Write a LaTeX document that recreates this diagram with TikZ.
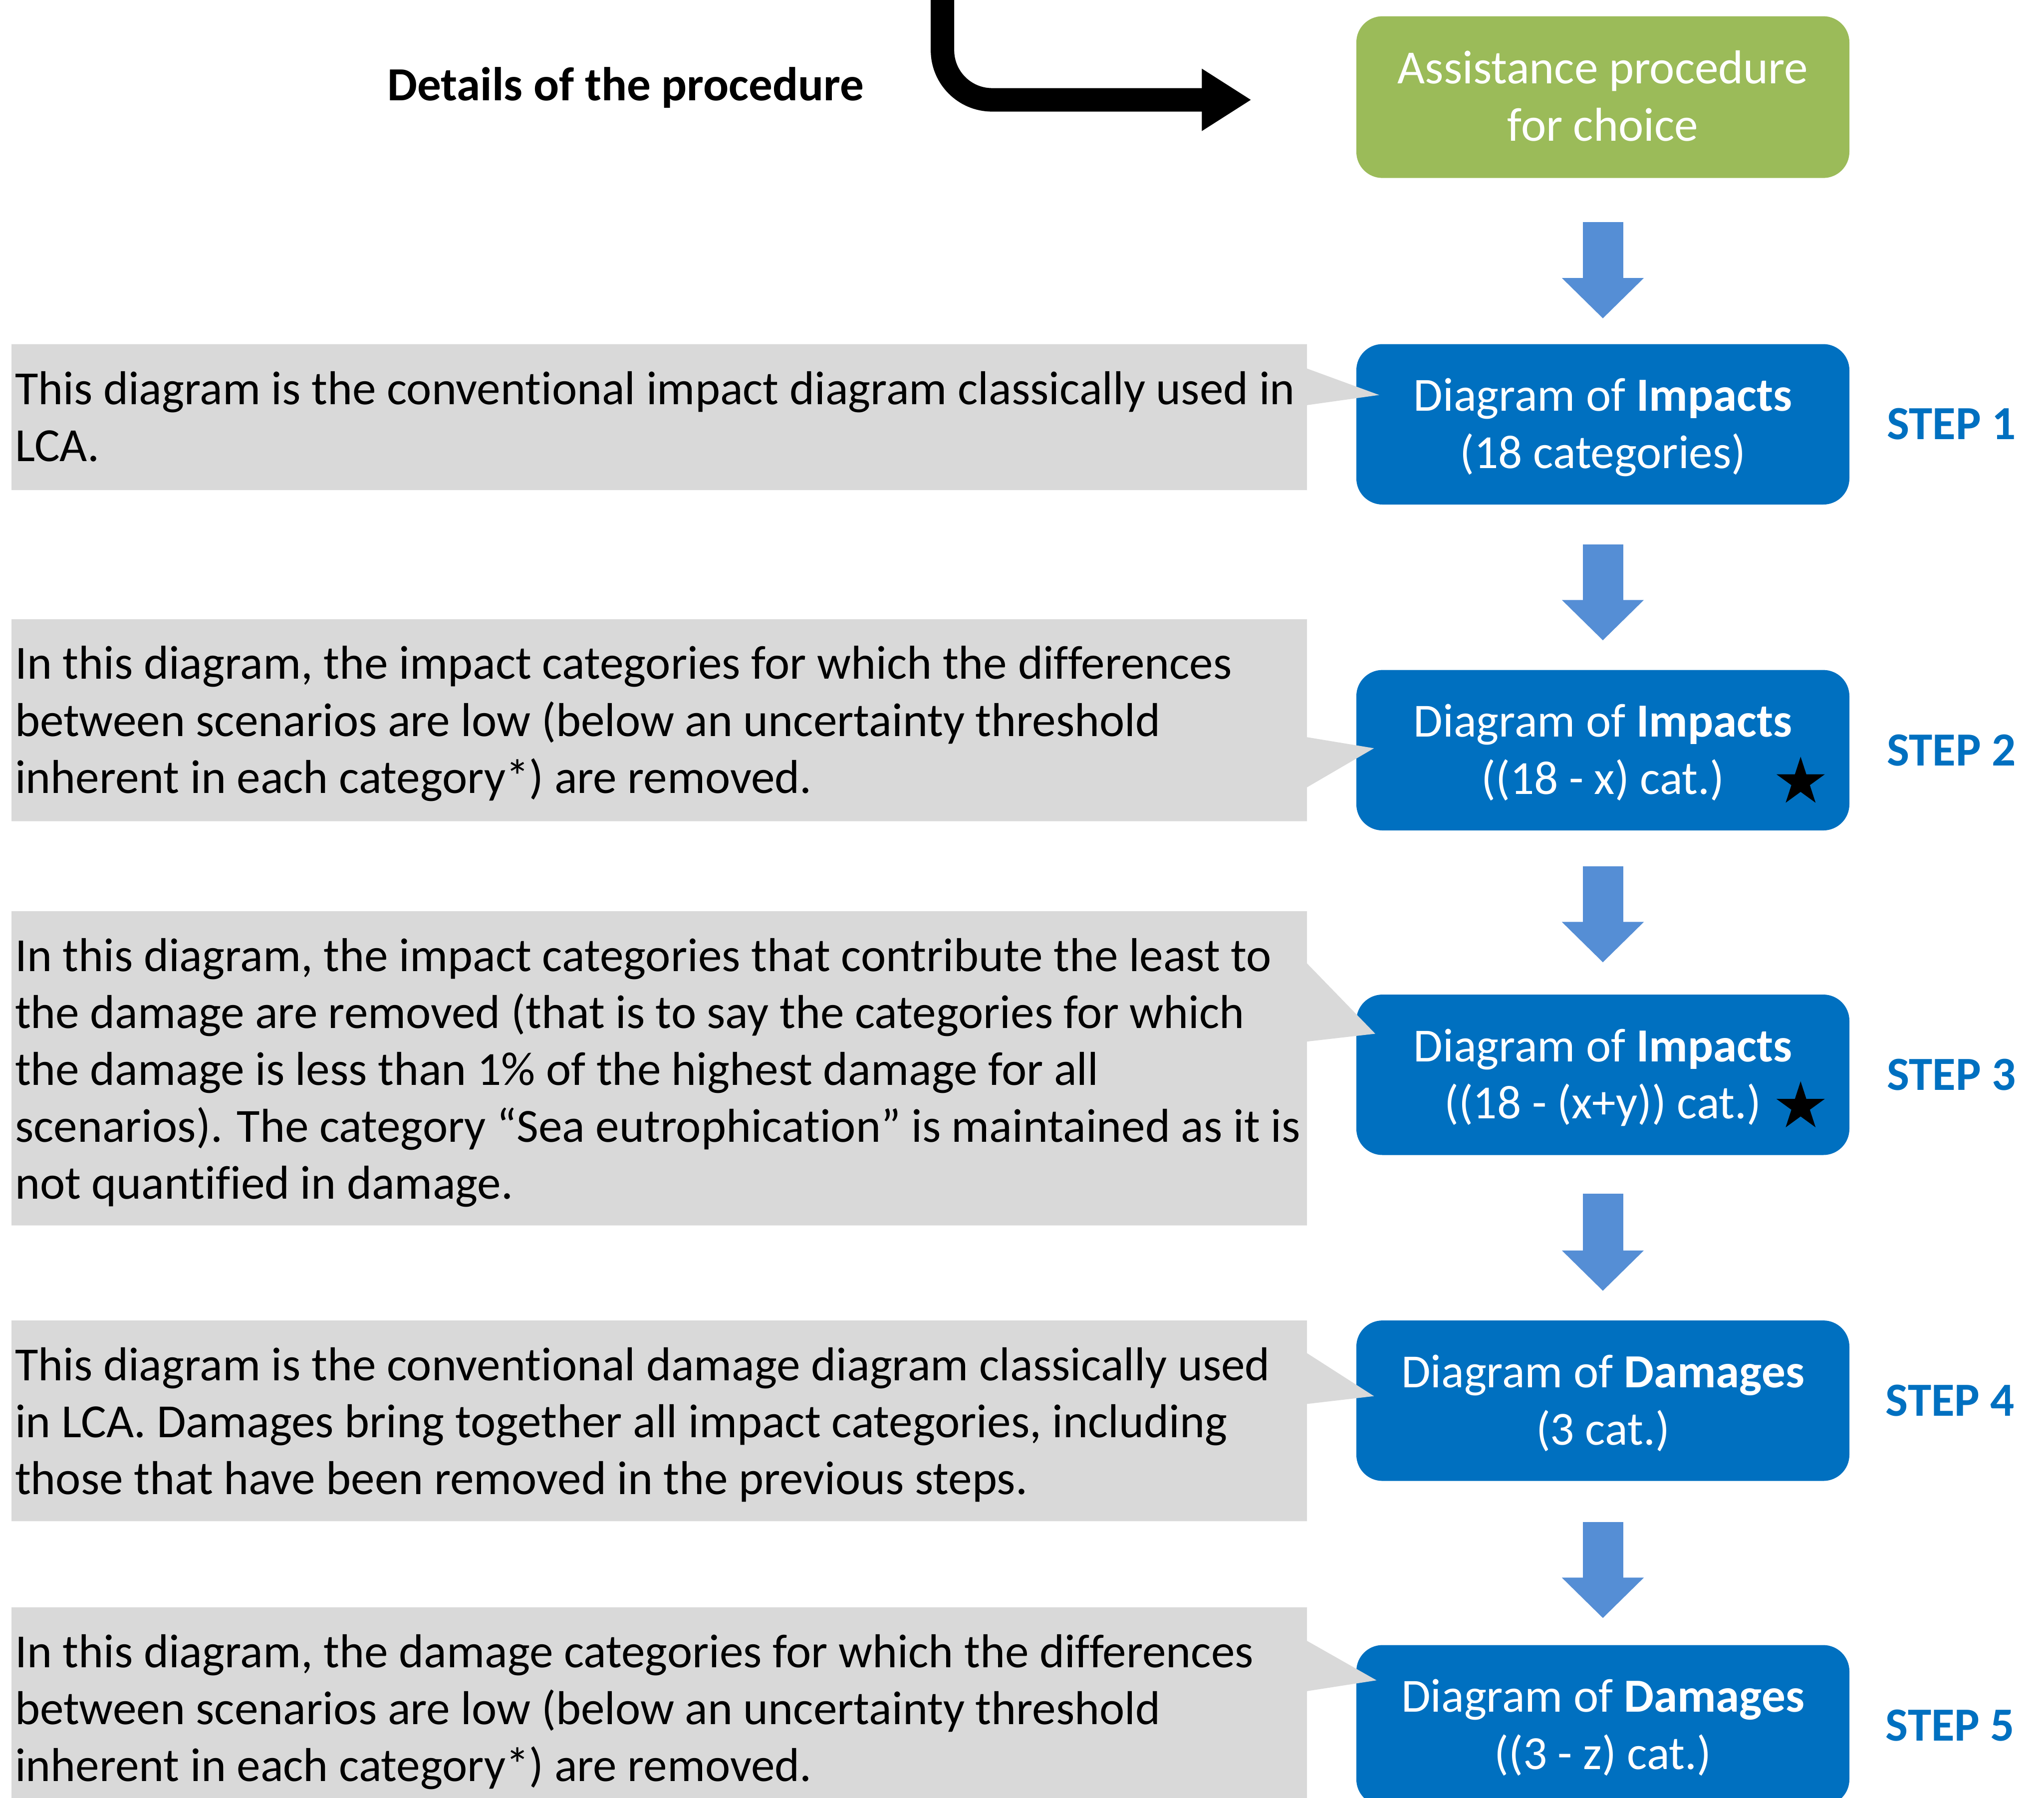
\documentclass[tikz,border=0pt]{standalone}
\usepackage{fontspec}
\setmainfont{Carlito}[Ligatures={NoCommon}]
\usetikzlibrary{arrows.meta,shapes.geometric,calc}
\definecolor{boxblue}{HTML}{0070C0}
\definecolor{arrblue}{HTML}{558ED5}
\definecolor{boxgreen}{HTML}{9BBB59}
\definecolor{calgray}{HTML}{D9D9D9}
\newcommand\fsz{\fontsize{10.37}{12.6}\selectfont}
\begin{document}
\begin{tikzpicture}[x=0.01cm,y=-0.01cm,
  txt/.style={inner sep=0pt, outer sep=0pt, font=\fsz},
  ctxt/.style={txt, anchor=base west},
  btxt/.style={txt, anchor=base, text=white},
  steplbl/.style={txt, anchor=base, font=\fsz\bfseries, text=boxblue},
  stepbox/.style={rectangle, rounded corners=0.2cm, minimum width=3.78cm, minimum height=1.23cm, inner sep=0pt, fill=boxblue},
  bluearr/.style={draw=arrblue, fill=arrblue, line width=0.31cm, -{Triangle[width=0.61cm,length=0.31cm]}},
  starmark/.style={star, star points=5, star point ratio=2.618, fill=black, inner sep=0pt, minimum size=0.39cm},
  callfill/.style={fill=calgray}
]
\useasboundingbox (0,0) rectangle (1568,1379);

% ---- boxes ----
\node[stepbox, fill=boxgreen, minimum height=1.24cm] (g) at (1229.6,74.5) {};
\node[stepbox] (b1) at (1229.6,325.5) {};
\node[stepbox] (b2) at (1229.6,575.5) {};
\node[stepbox] (b3) at (1229.6,824.5) {};
\node[stepbox] (b4) at (1229.6,1074.5) {};
\node[stepbox] (b5) at (1229.6,1323.5) {};

% ---- callouts ----
\fill[callfill] (8.9,264) -| (1002.6,282.7) -- (1058,303) -- (1002.6,310.8) |- (8.9,376) -- cycle;
\fill[callfill] (8.9,475) -| (1002.6,565.5) -- (1054,574) -- (1002.6,604) |- (8.9,630) -- cycle;
\fill[callfill] (8.9,699) -| (1002.6,739) -- (1055,793) -- (1002.6,799) |- (8.9,940) -- cycle;
\fill[callfill] (8.9,1013) -| (1002.6,1038) -- (1054,1071) -- (1002.6,1077) |- (8.9,1167) -- cycle;
\fill[callfill] (8.9,1233) -| (1002.6,1258.7) -- (1056,1289) -- (1002.6,1297.3) |- (8.9,1400) -- cycle;

% ---- blue arrows ----
\draw[bluearr] ($(g.south)+(0,33)$) -- ($(b1.north)+(0,-19)$);
\draw[bluearr] ($(b1.south)+(0,30)$) -- ($(b2.north)+(0,-22)$);
\draw[bluearr] ($(b2.south)+(0,27)$) -- ($(b3.north)+(0,-24)$);
\draw[bluearr] ($(b3.south)+(0,29)$) -- ($(b4.north)+(0,-22)$);
\draw[bluearr] ($(b4.south)+(0,31)$) -- ($(b5.north)+(0,-20)$);

% ---- black bent arrow ----
\coordinate (ktop) at (723,0);
\coordinate (kend) at (960,76.6);
\draw[line width=0.18cm, rounded corners=0.38cm, -{Triangle[width=0.45cm,length=0.38cm]}] (ktop) -- (ktop |- kend) -- (kend);
\node[txt, anchor=base, font=\fsz\bfseries] (det) at (480,77) {Details of the procedure};

% ---- box texts ----
\node[btxt] (gt1) at ($(g.north)+(0,52.5)$) {Assistance procedure};
\node[btxt] (gt2) at ($(g.north)+(0,96.3)$) {for choice};
\node[btxt] (b1t1) at ($(b1.north)+(0,52)$) {Diagram of \textbf{Impacts}};
\node[btxt] (b1t2) at ($(b1.north)+(0,96)$) {(18 categories)};
\node[btxt] (b2t1) at ($(b2.north)+(0,52)$) {Diagram of \textbf{Impacts}};
\node[btxt] (b2t2) at ($(b2.north)+(0,96)$) {((18 - x) cat.)};
\node[btxt] (b3t1) at ($(b3.north)+(0,52)$) {Diagram of \textbf{Impacts}};
\node[btxt] (b3t2) at ($(b3.north)+(0,96)$) {((18 - (x+y)) cat.)};
\node[btxt] (b4t1) at ($(b4.north)+(0,52)$) {Diagram of \textbf{Damages}};
\node[btxt] (b4t2) at ($(b4.north)+(0,96)$) {(3 cat.)};
\node[btxt] (b5t1) at ($(b5.north)+(0,52)$) {Diagram of \textbf{Damages}};
\node[btxt] (b5t2) at ($(b5.north)+(0,96)$) {((3 - z) cat.)};

\node[starmark] (s2) at (1381.3,600) {};
\node[starmark] (s3) at (1381.3,849) {};

% ---- step labels ----
\node[steplbl] (st1) at ($(b1.north)+(267.4,74)$) {STEP 1};
\node[steplbl] (st2) at ($(b2.north)+(267.4,74)$) {STEP 2};
\node[steplbl] (st3) at ($(b3.north)+(267.4,74)$) {STEP 3};
\node[steplbl] (st4) at ($(b4.north)+(266.4,74)$) {STEP 4};
\node[steplbl] (st5) at ($(b5.north)+(266.4,74)$) {STEP 5};

% ---- callout texts ----
\node[ctxt] (c1l1) at (11.5,310.3) {This diagram is the conventional impact diagram classically used in};
\node[ctxt] (c1l2) at (11.5,354) {LCA.};

\node[ctxt] (c2l1) at (11.5,521) {In this diagram, the impact categories for which the differences};
\node[ctxt] (c2l2) at (11.5,564.7) {between scenarios are low (below an uncertainty threshold};
\node[ctxt] (c2l3) at (11.5,608.4) {inherent in each category*) are removed.};

\node[ctxt] (c3l1) at (11.5,745) {In this diagram, the impact categories that contribute the least to};
\node[ctxt] (c3l2) at (11.5,788.7) {the damage are removed (that is to say the categories for which};
\node[ctxt] (c3l3) at (11.5,832.4) {the damage is less than 1\% of the highest damage for all};
\node[ctxt] (c3l4) at (11.5,876.1) {scenarios). The category “Sea eutrophication” is maintained as it is};
\node[ctxt] (c3l5) at (11.5,919.8) {not quantified in damage.};

\node[ctxt] (c4l1) at (11.5,1059) {This diagram is the conventional damage diagram classically used};
\node[ctxt] (c4l2) at (11.5,1102.7) {in LCA. Damages bring together all impact categories, including};
\node[ctxt] (c4l3) at (11.5,1146.4) {those that have been removed in the previous steps.};

\node[ctxt] (c5l1) at (11.5,1279) {In this diagram, the damage categories for which the differences};
\node[ctxt] (c5l2) at (11.5,1322.7) {between scenarios are low (below an uncertainty threshold};
\node[ctxt] (c5l3) at (11.5,1366.4) {inherent in each category*) are removed.};
\end{tikzpicture}
\end{document}
